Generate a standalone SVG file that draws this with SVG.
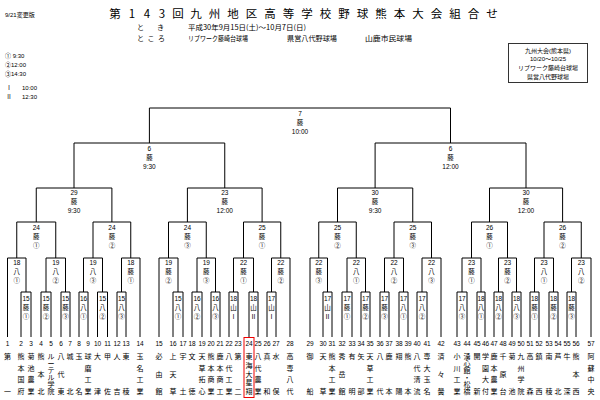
<svg xmlns="http://www.w3.org/2000/svg" width="600" height="400" viewBox="0 0 600 400">
<style>
.ln{fill:none;stroke:#000;stroke-width:1}
.lb{font-family:"Liberation Sans","Noto Sans CJK JP",sans-serif;font-size:6.5px;text-anchor:middle;dominant-baseline:central;fill:#000}
.nm{font-family:"Noto Sans CJK JP",sans-serif;font-size:7px;text-anchor:middle;dominant-baseline:central;fill:#000}
.hd{font-family:"Noto Sans CJK JP",sans-serif;font-size:7px;dominant-baseline:central;fill:#000}
.sm{font-family:"Liberation Sans","Noto Sans CJK JP",sans-serif;font-size:6px;dominant-baseline:central;fill:#000}
.tt{font-family:"Noto Sans CJK JP",sans-serif;font-size:11.5px;text-anchor:middle;dominant-baseline:central;fill:#000}
</style>
<rect width="600" height="400" fill="#fff"/>
<g id="header">
<text class="tt" x="115 132 147 162 178 196 214.5 233 251.5 270 288.5 307 325.5 344 362.5 381 399.5 418 436.5 455 473.5 492" y="12.5">第143回九州地区高等学校野球熊本大会組合せ</text>
<text class="sm" x="5" y="15">9/21変更版</text>
<text class="hd" x="137 157" y="26.5">とき</text>
<text class="hd" x="188" y="26.5" textLength="118" lengthAdjust="spacingAndGlyphs">平成30年9月15日(土)～10月7日(日)</text>
<text class="hd" x="137 147.5 158" y="38">ところ</text>
<text class="hd" x="188" y="38" textLength="60" lengthAdjust="spacingAndGlyphs">リブワーク藤崎台球場</text>
<text class="hd" x="287" y="38" textLength="50" lengthAdjust="spacingAndGlyphs">県営八代野球場</text>
<text class="hd" x="365" y="38" textLength="47" lengthAdjust="spacingAndGlyphs">山鹿市民球場</text>
<text class="sm" x="5" y="55.5">① 9:30</text>
<text class="sm" x="5" y="64.5">②12:00</text>
<text class="sm" x="5" y="73.5">③14:30</text>
<text class="sm" x="6" y="87.5">Ⅰ<tspan x="22">10:00</tspan></text>
<text class="sm" x="6" y="97">Ⅱ<tspan x="22">12:30</tspan></text>
</g>
<g id="info">
<rect x="508.5" y="43.5" width="79" height="39" fill="none" stroke="#333" stroke-width="1"/>
<text class="lb" x="548" y="50.5" style="font-size:6px">九州大会(熊本県)</text>
<text class="lb" x="548" y="59.2" style="font-size:6px">10/20～10/25</text>
<text class="lb" x="548" y="67.9" style="font-size:6px">リブワーク藤崎台球場</text>
<text class="lb" x="548" y="76.6" style="font-size:6px">県営八代野球場</text>
</g>
<g id="connectors" class="ln">
<path d="M21 337V292H31V337M41 337V292H51V337M61 337V292H70V337M79 337V292H88V337M97.5 337V292H107.5V337M117 337V292H126V337"/>
<path d="M173 337V292H183V337M192 337V292H202V337M211 337V292H220V337M229 337V292H238V337M249 337V292H258V337M267 337V292H276V337"/>
<path d="M323 337V292H332V337M342 337V292H352V337M361 337V292H370V337M380 337V292H389V337M399 337V292H408V337M417 337V292H427V337"/>
<path d="M457 337V292H467V337M477 337V292H485V337M494 337V292H503V337M512 337V292H521V337M530 337V292H539V337M549 337V292H558V337M567 337V292H576V337"/>
<path d="M7.5 337V258H26V292M46 292V258H65.5V292M83.5 292V258H102.5V292M121.5 292V258H140V337"/>
<path d="M159 337V258H178V292M197 292V258H215.5V292M233.5 292V258H253.5V292M271.5 292V258H290V337"/>
<path d="M310 337V258H327.5V292M347 292V258H365.5V292M384.5 292V258H403.5V292M422 292V258H441V337"/>
<path d="M462 292V258H481V292M498.5 292V258H516.5V292M534.5 292V258H553.5V292M571.5 292V258H591V337"/>
<path d="M16.75 258V222H55.75V258M93 258V222H130.75V258M168.5 258V222H206.25V258M243.5 258V222H280.75V258"/>
<path d="M318.75 258V222H356.25V258M394 258V222H431.5V258M471.5 258V222H507.5V258M544 258V222H581.25V258"/>
<path d="M36.25 222V188H111.9V222M187.4 222V188H262.1V222M337.5 222V188H412.75V222M489.5 222V188H562.6V222"/>
<path d="M74 188V143H224.75V188M375.1 188V143H526V188"/>
<path d="M149.4 143V108H450.5V143"/>
</g>
<g id="matches">
<g id="m7"><text class="lb" x="300" y="113">7<tspan x="300" y="122">藤</tspan><tspan x="300" y="131">10:00</tspan></text></g>
<g id="m6a"><text class="lb" x="149.4" y="148">6<tspan x="149.4" y="157">藤</tspan><tspan x="149.4" y="166">9:30</tspan></text></g>
<g id="m6b"><text class="lb" x="450.5" y="148">6<tspan x="450.5" y="157">藤</tspan><tspan x="450.5" y="166">12:00</tspan></text></g>
<g id="m29"><text class="lb" x="74" y="192">29<tspan x="74" y="201">藤</tspan><tspan x="74" y="210">9:30</tspan></text></g>
<g id="m23"><text class="lb" x="224.75" y="192">23<tspan x="224.75" y="201">藤</tspan><tspan x="224.75" y="210">12:00</tspan></text></g>
<g id="m30a"><text class="lb" x="375.1" y="192">30<tspan x="375.1" y="201">藤</tspan><tspan x="375.1" y="210">9:30</tspan></text></g>
<g id="m30b"><text class="lb" x="526" y="192">30<tspan x="526" y="201">藤</tspan><tspan x="526" y="210">12:00</tspan></text></g>
<g id="m24a"><text class="lb" x="36.25" y="227">24<tspan x="36.25" y="236">藤</tspan><tspan x="36.25" y="245">①</tspan></text></g>
<g id="m24b"><text class="lb" x="111.9" y="227">24<tspan x="111.9" y="236">藤</tspan><tspan x="111.9" y="245">②</tspan></text></g>
<g id="m24c"><text class="lb" x="187.4" y="227">24<tspan x="187.4" y="236">藤</tspan><tspan x="187.4" y="245">③</tspan></text></g>
<g id="m25a"><text class="lb" x="262.1" y="227">25<tspan x="262.1" y="236">藤</tspan><tspan x="262.1" y="245">①</tspan></text></g>
<g id="m25b"><text class="lb" x="337.5" y="227">25<tspan x="337.5" y="236">藤</tspan><tspan x="337.5" y="245">②</tspan></text></g>
<g id="m25c"><text class="lb" x="412.75" y="227">25<tspan x="412.75" y="236">藤</tspan><tspan x="412.75" y="245">③</tspan></text></g>
<g id="m26a"><text class="lb" x="489.5" y="227">26<tspan x="489.5" y="236">藤</tspan><tspan x="489.5" y="245">①</tspan></text></g>
<g id="m26b"><text class="lb" x="562.6" y="227">26<tspan x="562.6" y="236">藤</tspan><tspan x="562.6" y="245">②</tspan></text></g>
<g id="m18a"><text class="lb" x="16.75" y="262">18<tspan x="16.75" y="271">八</tspan><tspan x="16.75" y="280">①</tspan></text></g>
<g id="m19a"><text class="lb" x="55.75" y="262">19<tspan x="55.75" y="271">八</tspan><tspan x="55.75" y="280">②</tspan></text></g>
<g id="m19b"><text class="lb" x="93" y="262">19<tspan x="93" y="271">八</tspan><tspan x="93" y="280">③</tspan></text></g>
<g id="m18b"><text class="lb" x="130.75" y="262">18<tspan x="130.75" y="271">藤</tspan><tspan x="130.75" y="280">①</tspan></text></g>
<g id="m19c"><text class="lb" x="168.5" y="262">19<tspan x="168.5" y="271">藤</tspan><tspan x="168.5" y="280">②</tspan></text></g>
<g id="m19d"><text class="lb" x="206.25" y="262">19<tspan x="206.25" y="271">藤</tspan><tspan x="206.25" y="280">③</tspan></text></g>
<g id="m22a"><text class="lb" x="243.5" y="262">22<tspan x="243.5" y="271">藤</tspan><tspan x="243.5" y="280">①</tspan></text></g>
<g id="m22b"><text class="lb" x="280.75" y="262">22<tspan x="280.75" y="271">藤</tspan><tspan x="280.75" y="280">②</tspan></text></g>
<g id="m22c"><text class="lb" x="318.75" y="262">22<tspan x="318.75" y="271">藤</tspan><tspan x="318.75" y="280">③</tspan></text></g>
<g id="m22d"><text class="lb" x="356.25" y="262">22<tspan x="356.25" y="271">八</tspan><tspan x="356.25" y="280">①</tspan></text></g>
<g id="m22e"><text class="lb" x="394" y="262">22<tspan x="394" y="271">八</tspan><tspan x="394" y="280">②</tspan></text></g>
<g id="m22f"><text class="lb" x="431.5" y="262">22<tspan x="431.5" y="271">八</tspan><tspan x="431.5" y="280">③</tspan></text></g>
<g id="m23a"><text class="lb" x="471.5" y="262">23<tspan x="471.5" y="271">藤</tspan><tspan x="471.5" y="280">①</tspan></text></g>
<g id="m23b"><text class="lb" x="507.5" y="262">23<tspan x="507.5" y="271">藤</tspan><tspan x="507.5" y="280">②</tspan></text></g>
<g id="m23c"><text class="lb" x="544" y="262">23<tspan x="544" y="271">八</tspan><tspan x="544" y="280">①</tspan></text></g>
<g id="m23d"><text class="lb" x="581.25" y="262">23<tspan x="581.25" y="271">八</tspan><tspan x="581.25" y="280">②</tspan></text></g>
<g id="r1a"><text class="lb" x="26" y="298">15<tspan x="26" y="307">藤</tspan><tspan x="26" y="316">①</tspan></text></g>
<g id="r1b"><text class="lb" x="46" y="298">15<tspan x="46" y="307">藤</tspan><tspan x="46" y="316">②</tspan></text></g>
<g id="r1c"><text class="lb" x="65.5" y="298">15<tspan x="65.5" y="307">藤</tspan><tspan x="65.5" y="316">③</tspan></text></g>
<g id="r1d"><text class="lb" x="83.5" y="298">16<tspan x="83.5" y="307">八</tspan><tspan x="83.5" y="316">①</tspan></text></g>
<g id="r1e"><text class="lb" x="102.5" y="298">15<tspan x="102.5" y="307">八</tspan><tspan x="102.5" y="316">②</tspan></text></g>
<g id="r1f"><text class="lb" x="121.5" y="298">15<tspan x="121.5" y="307">八</tspan><tspan x="121.5" y="316">③</tspan></text></g>
<g id="r1g"><text class="lb" x="178" y="298">15<tspan x="178" y="307">八</tspan><tspan x="178" y="316">①</tspan></text></g>
<g id="r1h"><text class="lb" x="197" y="298">16<tspan x="197" y="307">八</tspan><tspan x="197" y="316">②</tspan></text></g>
<g id="r1i"><text class="lb" x="215.5" y="298">16<tspan x="215.5" y="307">八</tspan><tspan x="215.5" y="316">③</tspan></text></g>
<g id="r1j"><text class="lb" x="233.5" y="298">18<tspan x="233.5" y="307">山</tspan><tspan x="233.5" y="316">Ⅰ</tspan></text></g>
<g id="r1k"><text class="lb" x="253.5" y="298">18<tspan x="253.5" y="307">山</tspan><tspan x="253.5" y="316">Ⅱ</tspan></text></g>
<g id="r1l"><text class="lb" x="271.5" y="298">17<tspan x="271.5" y="307">山</tspan><tspan x="271.5" y="316">Ⅰ</tspan></text></g>
<g id="r1m"><text class="lb" x="327.5" y="298">17<tspan x="327.5" y="307">山</tspan><tspan x="327.5" y="316">Ⅱ</tspan></text></g>
<g id="r1n"><text class="lb" x="347" y="298">17<tspan x="347" y="307">藤</tspan><tspan x="347" y="316">①</tspan></text></g>
<g id="r1o"><text class="lb" x="365.5" y="298">17<tspan x="365.5" y="307">藤</tspan><tspan x="365.5" y="316">②</tspan></text></g>
<g id="r1p"><text class="lb" x="384.5" y="298">17<tspan x="384.5" y="307">藤</tspan><tspan x="384.5" y="316">③</tspan></text></g>
<g id="r1q"><text class="lb" x="403.5" y="298">17<tspan x="403.5" y="307">八</tspan><tspan x="403.5" y="316">①</tspan></text></g>
<g id="r1r"><text class="lb" x="422" y="298">17<tspan x="422" y="307">八</tspan><tspan x="422" y="316">②</tspan></text></g>
<g id="r1s"><text class="lb" x="462" y="298">17<tspan x="462" y="307">八</tspan><tspan x="462" y="316">③</tspan></text></g>
<g id="r1t"><text class="lb" x="481" y="298">18<tspan x="481" y="307">八</tspan><tspan x="481" y="316">①</tspan></text></g>
<g id="r1u"><text class="lb" x="498.5" y="298">18<tspan x="498.5" y="307">八</tspan><tspan x="498.5" y="316">②</tspan></text></g>
<g id="r1v"><text class="lb" x="516.5" y="298">18<tspan x="516.5" y="307">八</tspan><tspan x="516.5" y="316">③</tspan></text></g>
<g id="r1w"><text class="lb" x="534.5" y="298">18<tspan x="534.5" y="307">藤</tspan><tspan x="534.5" y="316">①</tspan></text></g>
<g id="r1x"><text class="lb" x="553.5" y="298">18<tspan x="553.5" y="307">藤</tspan><tspan x="553.5" y="316">②</tspan></text></g>
<g id="r1y"><text class="lb" x="571.5" y="298">18<tspan x="571.5" y="307">藤</tspan><tspan x="571.5" y="316">③</tspan></text></g>
</g>
<g id="teams">
<g id="t1"><text class="lb" x="7.5" y="343">1</text><text class="nm" x="7.5 7.5" y="356 391">第一</text></g>
<g id="t2"><text class="lb" x="21" y="343">2</text><text class="nm" x="21 21 21 21" y="356 367.7 379.3 391">熊本国府</text></g>
<g id="t3"><text class="lb" x="31" y="343">3</text><text class="nm" x="31 31 31 31" y="356 367.7 379.3 391">菊池農業</text></g>
<g id="t4"><text class="lb" x="41" y="343">4</text><text class="nm" x="41 41 41" y="356 373.5 391">熊本北</text></g>
<g id="t5"><text class="lb" x="51" y="343">5</text><text class="nm" x="51 51 51 51 51 51" y="356 363 370 377 384 391">ルーテル学院</text></g>
<g id="t6"><text class="lb" x="61" y="343">6</text><text class="nm" x="61 61 61" y="356 373.5 391">八代東</text></g>
<g id="t7"><text class="lb" x="70" y="343">7</text><text class="nm" x="70 70" y="356 391">城北</text></g>
<g id="t8"><text class="lb" x="79" y="343">8</text><text class="nm" x="79 79" y="356 391">玉名</text></g>
<g id="t9"><text class="lb" x="88" y="343">9</text><text class="nm" x="88 88 88 88" y="356 367.7 379.3 391">球磨工業</text></g>
<g id="t10"><text class="lb" x="97.5" y="343">10</text><text class="nm" x="97.5 97.5" y="356 391">大津</text></g>
<g id="t11"><text class="lb" x="107.5" y="343">11</text><text class="nm" x="107.5 107.5" y="356 391">甲佐</text></g>
<g id="t12"><text class="lb" x="117" y="343">12</text><text class="nm" x="117 117" y="356 391">人吉</text></g>
<g id="t13"><text class="lb" x="126" y="343">13</text><text class="nm" x="126 126" y="356 391">東稜</text></g>
<g id="t14"><text class="lb" x="140" y="343">14</text><text class="nm" x="140 140 140 140" y="356 367.7 379.3 391">玉名工業</text></g>
<g id="t15"><text class="lb" x="159" y="343">15</text><text class="nm" x="159 159 159" y="356 373.5 391">必由館</text></g>
<g id="t16"><text class="lb" x="173" y="343">16</text><text class="nm" x="173 173 173" y="356 373.5 391">上天草</text></g>
<g id="t17"><text class="lb" x="183" y="343">17</text><text class="nm" x="183 183" y="356 391">宇土</text></g>
<g id="t18"><text class="lb" x="192" y="343">18</text><text class="nm" x="192 192" y="356 391">文徳</text></g>
<g id="t19"><text class="lb" x="202" y="343">19</text><text class="nm" x="202 202 202 202" y="356 367.7 379.3 391">天草拓心</text></g>
<g id="t20"><text class="lb" x="211" y="343">20</text><text class="nm" x="211 211 211 211" y="356 367.7 379.3 391">熊本商業</text></g>
<g id="t21"><text class="lb" x="220" y="343">21</text><text class="nm" x="220 220 220 220" y="356 367.7 379.3 391">鹿本商工</text></g>
<g id="t22"><text class="lb" x="229" y="343">22</text><text class="nm" x="229 229 229 229" y="356 367.7 379.3 391">八代工業</text></g>
<g id="t23"><text class="lb" x="238" y="343">23</text><text class="nm" x="238 238" y="356 391">第二</text></g>
<g id="t24"><text class="lb" x="249" y="343">24</text><text class="nm" x="249 249 249 249 249" y="356 364.8 373.5 382.3 391">東海大星翔</text><rect x="244" y="337.5" width="10" height="60" fill="none" stroke="#e00" stroke-width="1"/></g>
<g id="t25"><text class="lb" x="258" y="343">25</text><text class="nm" x="258 258 258 258" y="356 367.7 379.3 391">八代農業</text></g>
<g id="t26"><text class="lb" x="267" y="343">26</text><text class="nm" x="267 267" y="356 391">真和</text></g>
<g id="t27"><text class="lb" x="276" y="343">27</text><text class="nm" x="276 276" y="356 391">水俣</text></g>
<g id="t28"><text class="lb" x="290" y="343">28</text><text class="nm" x="290 290 290 290" y="356 367.7 379.3 391">高専八代</text></g>
<g id="t29"><text class="lb" x="310" y="343">29</text><text class="nm" x="310 310" y="356 391">御船</text></g>
<g id="t30"><text class="lb" x="323" y="343">30</text><text class="nm" x="323 323" y="356 391">天草</text></g>
<g id="t31"><text class="lb" x="332" y="343">31</text><text class="nm" x="332 332 332 332" y="356 367.7 379.3 391">熊本工業</text></g>
<g id="t32"><text class="lb" x="342" y="343">32</text><text class="nm" x="342 342 342" y="356 373.5 391">秀岳館</text></g>
<g id="t33"><text class="lb" x="352" y="343">33</text><text class="nm" x="352 352" y="356 391">有明</text></g>
<g id="t34"><text class="lb" x="361" y="343">34</text><text class="nm" x="361 361" y="356 391">矢部</text></g>
<g id="t35"><text class="lb" x="370" y="343">35</text><text class="nm" x="370 370 370 370" y="356 367.7 379.3 391">天草工業</text></g>
<g id="t36"><text class="lb" x="380" y="343">36</text><text class="nm" x="380 380" y="356 391">八代</text></g>
<g id="t37"><text class="lb" x="389" y="343">37</text><text class="nm" x="389 389" y="356 391">鹿本</text></g>
<g id="t38"><text class="lb" x="399" y="343">38</text><text class="nm" x="399 399" y="356 391">翔陽</text></g>
<g id="t39"><text class="lb" x="408" y="343">39</text><text class="nm" x="408 408" y="356 391">熊本</text></g>
<g id="t40"><text class="lb" x="417" y="343">40</text><text class="nm" x="417 417 417 417" y="356 367.7 379.3 391">八代清流</text></g>
<g id="t41"><text class="lb" x="427" y="343">41</text><text class="nm" x="427 427 427 427" y="356 367.7 379.3 391">専大玉名</text></g>
<g id="t42"><text class="lb" x="441" y="343">42</text><text class="nm" x="441 441 441" y="356 373.5 391">済々黌</text></g>
<g id="t43"><text class="lb" x="457" y="343">43</text><text class="nm" x="457 457 457 457" y="356 367.7 379.3 391">小川工業</text></g>
<g id="t44"><text class="lb" x="467" y="343">44</text><text class="nm" x="467 467 467 467 467 467" y="356 363 370 377 384 391">湧心館・松橋</text></g>
<g id="t45"><text class="lb" x="477" y="343">45</text><text class="nm" x="477 477" y="356 391">開新</text></g>
<g id="t46"><text class="lb" x="485.5" y="343">46</text><text class="nm" x="485.5 485.5 485.5 485.5" y="356 367.7 379.3 391">学園大付</text></g>
<g id="t47"><text class="lb" x="494" y="343">47</text><text class="nm" x="494 494 494 494" y="356 367.7 379.3 391">鹿本農業</text></g>
<g id="t48"><text class="lb" x="503" y="343">48</text><text class="nm" x="503 503 503" y="356 373.5 391">千原台</text></g>
<g id="t49"><text class="lb" x="512" y="343">49</text><text class="nm" x="512 512" y="356 391">菊池</text></g>
<g id="t50"><text class="lb" x="521" y="343">50</text><text class="nm" x="521 521 521 521" y="356 367.7 379.3 391">九州学院</text></g>
<g id="t51"><text class="lb" x="530" y="343">51</text><text class="nm" x="530 530" y="356 391">高森</text></g>
<g id="t52"><text class="lb" x="539" y="343">52</text><text class="nm" x="539 539" y="356 391">鎮西</text></g>
<g id="t53"><text class="lb" x="549" y="343">53</text><text class="nm" x="549 549" y="356 391">南稜</text></g>
<g id="t54"><text class="lb" x="558" y="343">54</text><text class="nm" x="558 558" y="356 391">芦北</text></g>
<g id="t55"><text class="lb" x="567" y="343">55</text><text class="nm" x="567 567" y="356 391">牛深</text></g>
<g id="t56"><text class="lb" x="576" y="343">56</text><text class="nm" x="576 576 576" y="356 373.5 391">熊本西</text></g>
<g id="t57"><text class="lb" x="591" y="343">57</text><text class="nm" x="591 591 591 591" y="356 367.7 379.3 391">阿蘇中央</text></g>
</g>
</svg>
